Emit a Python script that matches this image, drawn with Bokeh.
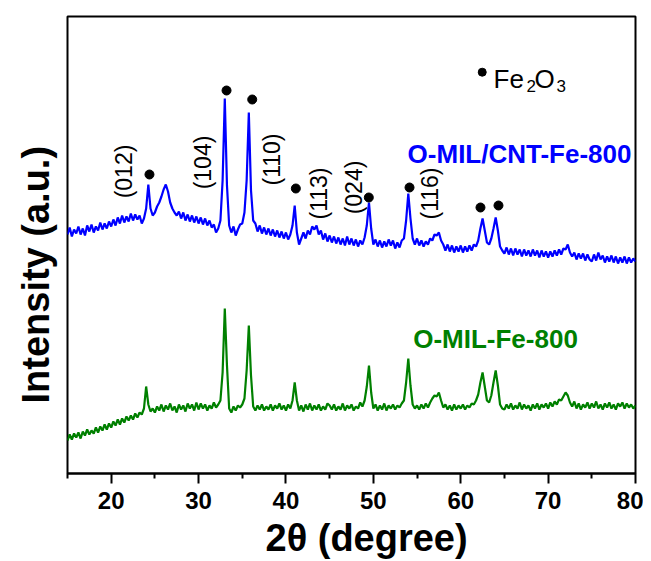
import numpy as np
from bokeh.plotting import figure
from bokeh.models import Range1d, FixedTicker, Label, Title
from bokeh.embed import file_html
from bokeh.resources import INLINE
from bokeh.core.properties import value

# ---------------- data ----------------
two_theta = np.arange(15.0, 80.0 + 0.001, 0.25)  # degrees, 0.25 step sample positions

# O-MIL/CNT-Fe-800 (blue), intensity a.u.
cnt_fe800 = [
    236, 243, 234, 241, 237, 244, 236, 242, 235, 245, 239, 246, 238, 244, 240, 248, 241, 247, 242, 249,  # 15-19.75
    244, 251, 245, 253, 247, 255, 248, 254, 249, 257, 250, 256, 251, 255, 247, 252, 262, 286, 262, 255,  # 20-24.75
    258, 264, 268, 274, 281, 286, 279, 268, 262, 258, 255, 259, 252, 258, 250, 256, 249, 255, 248, 254,  # 25-29.75
    247, 253, 246, 252, 245, 250, 243, 246, 238, 242, 250, 290, 372, 285, 245, 238, 244, 235, 241, 246,  # 30-34.75
    247, 258, 290, 358, 280, 250, 247, 239, 245, 237, 243, 236, 242, 235, 241, 234, 240, 233, 239, 232,  # 35-39.75
    238, 231, 236, 245, 265, 238, 226, 232, 238, 232, 240, 236, 244, 241, 245, 236, 240, 231, 237, 229,  # 40-44.75
    235, 228, 234, 227, 233, 226, 232, 225, 234, 226, 232, 225, 231, 224, 230, 226, 233, 245, 268, 242,  # 45-49.75
    226, 231, 224, 230, 223, 229, 224, 231, 225, 230, 222, 228, 223, 230, 232, 250, 277, 252, 232, 226,  # 50-54.75
    232, 225, 230, 224, 229, 226, 232, 230, 236, 235, 238, 230, 226, 220, 226, 219, 225, 218, 224, 219,  # 55-59.75
    225, 218, 224, 219, 225, 220, 226, 224, 230, 242, 252, 240, 228, 226, 232, 242, 253, 240, 224, 220,  # 60-64.75
    217, 223, 216, 222, 215, 222, 216, 221, 214, 221, 215, 220, 214, 221, 215, 220, 213, 220, 214, 219,  # 65-69.75
    213, 219, 214, 220, 215, 221, 216, 222, 221, 226, 218, 214, 218, 211, 217, 212, 217, 210, 216, 211,  # 70-74.75
    209, 216, 210, 218, 211, 215, 208, 214, 209, 215, 208, 214, 207, 213, 208, 214, 207, 213, 208, 212,  # 75-79.75
    209,                                                                                                  # 80
]

# O-MIL-Fe-800 (green), intensity a.u.
mil_fe800 = [
    30, 36, 31, 37, 33, 38, 32, 39, 35, 41, 36, 40, 37, 43, 38, 44, 40, 46, 41, 47,
    43, 49, 45, 51, 46, 52, 48, 54, 50, 55, 51, 57, 53, 58, 56, 62, 84, 66, 59, 62,
    58, 64, 60, 66, 59, 65, 61, 67, 60, 64, 58, 66, 61, 65, 59, 67, 62, 66, 60, 68,
    61, 67, 62, 66, 60, 65, 62, 68, 63, 66, 70, 98, 162, 105, 62, 58, 64, 60, 65, 63,
    66, 72, 100, 145, 95, 64, 60, 65, 61, 66, 60, 64, 61, 66, 60, 65, 62, 67, 61, 65,
    60, 66, 62, 70, 88, 70, 60, 65, 59, 66, 61, 67, 60, 65, 61, 66, 60, 64, 61, 67,
    65, 61, 66, 60, 64, 61, 67, 60, 65, 62, 66, 60, 64, 62, 68, 64, 70, 84, 105, 78,
    62, 66, 60, 65, 61, 67, 60, 65, 62, 66, 61, 65, 63, 67, 70, 88, 112, 85, 66, 62,
    65, 61, 66, 62, 67, 63, 68, 72, 75, 74, 78, 70, 63, 66, 61, 65, 60, 66, 61, 65,
    62, 66, 61, 65, 63, 67, 66, 70, 76, 88, 98, 84, 70, 68, 75, 88, 100, 85, 66, 62,
    61, 66, 62, 67, 61, 65, 62, 68, 61, 66, 62, 65, 60, 66, 62, 67, 61, 66, 63, 67,
    62, 68, 64, 69, 66, 71, 70, 74, 78, 75, 68, 64, 69, 62, 67, 61, 66, 63, 68, 62,
    67, 63, 69, 62, 66, 61, 67, 63, 68, 62, 66, 61, 67, 64, 68, 62, 67, 63, 66, 62,
    65,
]

assert len(cnt_fe800) == len(two_theta) == len(mil_fe800)

# Fe2O3 reflection markers (2theta, height)
fe2o3_x = [24.38, 33.2, 36.14, 41.13, 49.48, 54.14, 62.26, 64.32]
fe2o3_y = [296, 380, 371, 282, 273, 283, 263, 265]

# Miller index labels
hkl_text = ["(012)", "(104)", "(110)", "(113)", "(024)", "(116)"]
hkl_x = [21.47, 30.48, 38.43, 43.76, 47.77, 56.54]
hkl_y = [299, 308, 311, 277, 283, 277]

tick_values = [20, 30, 40, 50, 60, 70, 80]
minor_values = [15, 25, 35, 45, 55, 65, 75]

FONT = "Liberation Sans"
BLUE = "#0000ff"
GREEN = "#008000"

# ---------------- figure ----------------
p = figure(frame_width=568, frame_height=457,
           min_border_left=67, min_border_right=8, min_border_top=16, min_border_bottom=82,
           x_range=Range1d(15, 80), y_range=Range1d(-3, 454),
           output_backend="svg", toolbar_location=None,
           background_fill_color="white", border_fill_color="white")
p.xgrid.visible = False
p.ygrid.visible = False
p.yaxis.visible = False
p.outline_line_color = "black"
p.outline_line_width = 2
p.outline_line_alpha = 1.0

xa = p.xaxis[0]
xa.ticker = FixedTicker(ticks=tick_values, minor_ticks=minor_values)
xa.major_tick_out = 10
xa.major_tick_in = 0
xa.minor_tick_out = 5
xa.minor_tick_in = 0
xa.axis_line_width = 2
xa.major_tick_line_width = 2
xa.minor_tick_line_width = 2
xa.axis_line_color = "black"
xa.major_tick_line_color = "black"
xa.minor_tick_line_color = "black"
xa.major_label_text_font = FONT
xa.major_label_text_font_size = "24px"
xa.major_label_text_font_style = "bold"
xa.major_label_text_color = "black"
xa.major_label_standoff = 8

# axis titles as side titles (positionable)
p.add_layout(Title(text="2θ (degree)", align="left", offset=198, vertical_align="middle",
                   standoff=8, text_font=FONT, text_font_size="38px",
                   text_font_style="bold", text_color="black"), "below")
p.add_layout(Title(text="Intensity (a.u.)", align="left", offset=70, vertical_align="bottom",
                   standoff=22, text_font=FONT, text_font_size="38px",
                   text_font_style="bold", text_color="black"), "left")

# curves
p.line(two_theta, cnt_fe800, line_color=BLUE, line_width=2.2)
p.line(two_theta, mil_fe800, line_color=GREEN, line_width=2.2)

# Fe2O3 markers
p.scatter(fe2o3_x, fe2o3_y, size=9, color="black")

# hkl labels
p.text(x=hkl_x, y=hkl_y, text=hkl_text, angle=np.pi / 2,
       text_align="center", text_baseline="middle",
       text_font=value(FONT), text_font_size="23px", text_color="black")

# sample names
p.add_layout(Label(x=66.73, y=316.5, text="O-MIL/CNT-Fe-800", text_align="center",
                   text_baseline="middle", text_font=FONT, text_font_size="26px",
                   text_font_style="bold", text_color=BLUE))
p.add_layout(Label(x=63.98, y=131.5, text="O-MIL-Fe-800", text_align="center",
                   text_baseline="middle", text_font=FONT, text_font_size="26px",
                   text_font_style="bold", text_color=GREEN))

# legend: • Fe2O3
p.scatter([62.46], [398.3], size=8, color="black")
for txt, x, y, fs in [("Fe", 63.75, 392, "26px"), ("2", 67.53, 385, "17px"),
                      ("O", 68.44, 392, "26px"), ("3", 70.96, 385, "17px")]:
    p.add_layout(Label(x=x, y=y, text=txt, text_align="left", text_baseline="alphabetic",
                       text_font=FONT, text_font_size=fs, text_color="black"))

open("out.html", "w").write(file_html(p, INLINE))
